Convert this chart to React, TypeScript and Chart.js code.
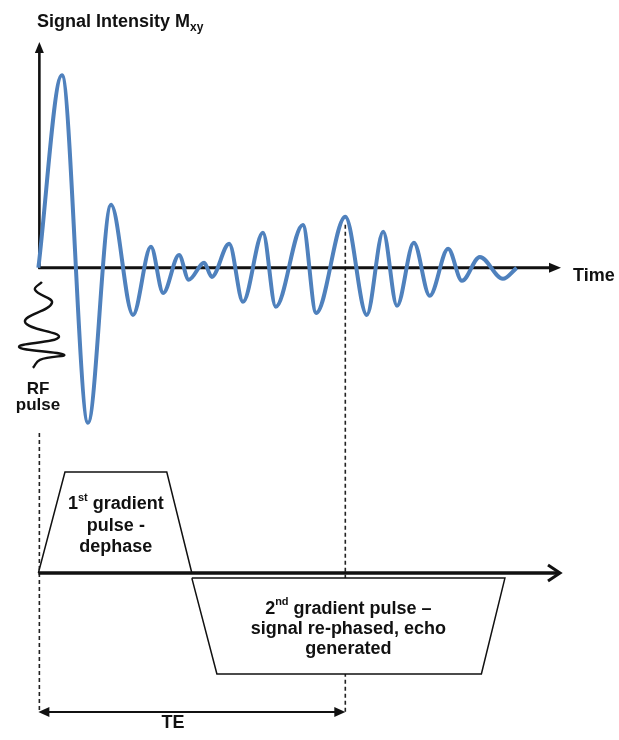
import React, { useEffect, useRef } from "react";
import { Chart, registerables } from "chart.js";

Chart.register(...registerables);

// ---- data (time in ms-like units, signal in % of first peak, gradient in relative units) ----
const signalTimes = [0, 4.6, 9.7, 14.2, 18.5, 22.0, 24.4, 27.5, 29.4, 32.4, 33.9, 37.3, 40.0, 43.9, 46.4, 51.7, 54.3, 60.0, 64.2, 67.4, 70.1, 73.4, 76.5, 80.1, 82.8, 86.3, 90.8, 93.5];
const signalValues = [0, 100, -80.4, 32.7, -24.4, 10.9, -13.0, 6.7, -6.2, 2.6, -4.7, 12.5, -17.6, 18.2, -20.2, 22.3, -23.4, 26.5, -24.4, 18.7, -19.7, 13.0, -14.5, 9.9, -6.7, 5.7, -5.7, 0];

const rfTimes = [0.7, -0.66, 2.66, -2.62, 4.03, -3.79, 5.0, 0.3, -1.06];
const rfValues = [-7.3, -11.4, -18.2, -28.0, -35.8, -41.0, -45.1, -47.7, -51.9];

const grad1Times = [0, 5.2, 25.1, 30];
const grad1Values = [0, 1, 1, 0];
const grad2Times = [30, 91.2, 86.6, 34.9, 30];
const grad2Values = [-0.05, -0.05, -1, -1, -0.05];

const echoTime = 60; // TE
const echoPeak = 26.5;
const xRange = [-7.5, 113.5];
const signalRange = [-245, 139];
const gradRange = [-1.653, 5.673];

const titleMain = "Signal Intensity M";
const titleSub = "xy";
const timeLabel = "Time";
const rfLabel = ["RF", "pulse"];
const teLabel = "TE";

const FONT = "'Liberation Sans', Arial, sans-serif";
const INK = "#111111";
const BLUE = "#4F81BD";

type Seg = { text: string; size: number; dy: number };

function drawRich(ctx: CanvasRenderingContext2D, segs: Seg[], x: number, y: number, center: boolean) {
  const widths = segs.map((s) => {
    ctx.font = `bold ${s.size}px ${FONT}`;
    return ctx.measureText(s.text).width;
  });
  const total = widths.reduce((a, b) => a + b, 0);
  let cx = center ? x - total / 2 : x;
  segs.forEach((s, i) => {
    ctx.font = `bold ${s.size}px ${FONT}`;
    ctx.fillText(s.text, cx, y + s.dy);
    cx += widths[i];
  });
}

function line(ctx: CanvasRenderingContext2D, x1: number, y1: number, x2: number, y2: number) {
  ctx.beginPath();
  ctx.moveTo(x1, y1);
  ctx.lineTo(x2, y2);
  ctx.stroke();
}

function head(ctx: CanvasRenderingContext2D, tx: number, ty: number, dx: number, dy: number, len: number, half: number) {
  // dx,dy unit direction of the arrow
  const bx = tx - dx * len;
  const by = ty - dy * len;
  const px = -dy;
  const py = dx;
  ctx.beginPath();
  ctx.moveTo(tx, ty);
  ctx.lineTo(bx + px * half, by + py * half);
  ctx.lineTo(bx - px * half, by - py * half);
  ctx.closePath();
  ctx.fill();
}

const diagramPlugin = {
  id: "diagram",
  beforeDatasetsDraw(chart: any) {
    const ctx: CanvasRenderingContext2D = chart.ctx;
    const xs = chart.scales.x;
    const ys = chart.scales.y;
    const x0 = xs.getPixelForValue(0);
    const xTE = xs.getPixelForValue(echoTime);
    const y0 = ys.getPixelForValue(0);
    ctx.save();
    // dashed guides
    ctx.strokeStyle = "#222";
    ctx.lineWidth = 1.6;
    ctx.setLineDash([4, 3]);
    line(ctx, x0 + 1, 433, x0 + 1, 712);
    line(ctx, xTE, ys.getPixelForValue(echoPeak) + 8, xTE, 712);
    ctx.setLineDash([]);
    // signal axes
    ctx.strokeStyle = INK;
    ctx.fillStyle = INK;
    ctx.lineWidth = 2.6;
    line(ctx, x0 + 1, y0 + 1, x0 + 1, 50);
    head(ctx, x0 + 1, 42, 0, -1, 11, 4.5);
    ctx.lineWidth = 3;
    line(ctx, x0, y0, 552, y0);
    head(ctx, 561, y0, 1, 0, 12, 5);
    ctx.restore();
  },
  afterDatasetsDraw(chart: any) {
    const ctx: CanvasRenderingContext2D = chart.ctx;
    const xs = chart.scales.x;
    const gs = chart.scales.g;
    const x0 = xs.getPixelForValue(0);
    const xTE = xs.getPixelForValue(echoTime);
    const g0 = gs.getPixelForValue(0);
    ctx.save();
    ctx.strokeStyle = INK;
    ctx.fillStyle = INK;
    // gradient time axis
    ctx.lineWidth = 3.5;
    line(ctx, x0, g0, 558, g0);
    ctx.lineWidth = 3;
    ctx.beginPath();
    ctx.moveTo(548, g0 - 8);
    ctx.lineTo(560, g0);
    ctx.lineTo(548, g0 + 8);
    ctx.stroke();
    // TE arrow
    ctx.lineWidth = 2.2;
    line(ctx, x0 + 6, 712, xTE - 6, 712);
    head(ctx, x0, 712, -1, 0, 11, 5);
    head(ctx, xTE, 712, 1, 0, 11, 5);

    // texts
    ctx.textAlign = "left";
    ctx.textBaseline = "alphabetic";
    drawRich(ctx, [{ text: titleMain, size: 18, dy: 0 }, { text: titleSub, size: 12, dy: 4 }], 37, 27, false);
    drawRich(ctx, [{ text: timeLabel, size: 18, dy: 0 }], 573, 281, false);
    drawRich(ctx, [{ text: rfLabel[0], size: 17, dy: 0 }], 38, 394, true);
    drawRich(ctx, [{ text: rfLabel[1], size: 17, dy: 0 }], 38, 410, true);
    // gradient 1
    const g1x = (xs.getPixelForValue(grad1Times[1]) + xs.getPixelForValue(grad1Times[2])) / 2;
    drawRich(ctx, [{ text: "1", size: 18, dy: 0 }, { text: "st", size: 11, dy: -8 }, { text: " gradient", size: 18, dy: 0 }], g1x, 509, true);
    drawRich(ctx, [{ text: "pulse -", size: 18, dy: 0 }], g1x, 531, true);
    drawRich(ctx, [{ text: "dephase", size: 18, dy: 0 }], g1x, 552, true);
    // gradient 2
    const g2x = (xs.getPixelForValue(grad2Times[0]) + xs.getPixelForValue(grad2Times[1])) / 2;
    drawRich(ctx, [{ text: "2", size: 18, dy: 0 }, { text: "nd", size: 11, dy: -9 }, { text: " gradient pulse \u2013", size: 18, dy: 0 }], g2x, 614, true);
    drawRich(ctx, [{ text: "signal re-phased, echo", size: 18, dy: 0 }], g2x, 634, true);
    drawRich(ctx, [{ text: "generated", size: 18, dy: 0 }], g2x, 654, true);
    // TE
    drawRich(ctx, [{ text: teLabel, size: 18, dy: 0 }], 173, 728, true);
    ctx.restore();
  },
};

const zip = (xs: number[], ys: number[]) => xs.map((x, i) => ({ x, y: ys[i] }));

export default function App() {
  const ref = useRef<HTMLCanvasElement | null>(null);
  useEffect(() => {
    if (!ref.current) return;
    const chart = new Chart(ref.current, {
      type: "line",
      data: {
        datasets: [
          {
            label: "gradient 1",
            data: zip(grad1Times, grad1Values),
            yAxisID: "g",
            borderColor: INK,
            borderWidth: 1.5,
            backgroundColor: "#ffffff",
            fill: "origin",
            tension: 0,
            pointRadius: 0,
          },
          {
            label: "gradient 2",
            data: zip(grad2Times, grad2Values),
            yAxisID: "g",
            borderColor: INK,
            borderWidth: 1.5,
            backgroundColor: "#ffffff",
            fill: "shape",
            tension: 0,
            pointRadius: 0,
          },
          {
            label: "RF pulse",
            data: zip(rfTimes, rfValues),
            yAxisID: "y",
            borderColor: INK,
            borderWidth: 2.4,
            fill: false,
            tension: 0.45,
            pointRadius: 0,
          },
          {
            label: "Signal",
            data: zip(signalTimes, signalValues),
            yAxisID: "y",
            borderColor: BLUE,
            borderWidth: 4,
            fill: false,
            cubicInterpolationMode: "monotone",
            pointRadius: 0,
          },
        ] as any,
      },
      options: {
        animation: false,
        responsive: false,
        layout: { padding: 0, autoPadding: false } as any,
        plugins: { legend: { display: false }, tooltip: { enabled: false }, title: { display: false } },
        events: [],
        scales: {
          x: { type: "linear", display: false, min: xRange[0], max: xRange[1] },
          y: { type: "linear", display: false, min: signalRange[0], max: signalRange[1] },
          g: { type: "linear", display: false, min: gradRange[0], max: gradRange[1] },
        },
      },
      plugins: [diagramPlugin],
    });
    return () => chart.destroy();
  }, []);
  return (
    <div style={{ position: "fixed", left: 0, top: 0, width: 619, height: 740, background: "#fff" }}>
      <canvas ref={ref} width={619} height={740} style={{ display: "block" }} />
    </div>
  );
}
